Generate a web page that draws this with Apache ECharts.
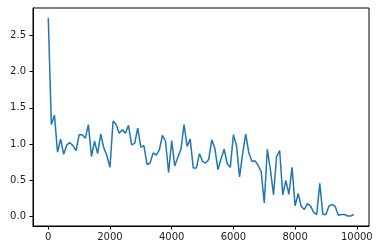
<!DOCTYPE html>
<html>
<head>
<meta charset="utf-8">
<script src="https://cdn.jsdelivr.net/npm/echarts@6/dist/echarts.min.js"></script>
<style>html,body{margin:0;padding:0;background:#fff}#c{width:384px;height:252px}</style>
</head>
<body>
<div id="c"></div>
<script>
var steps = [];
for (var k = 0; k < 100; k++) steps.push(k * 100);
var values = [
  2.74, 1.27, 1.40, 0.89, 1.07, 0.86, 0.99, 1.02, 0.98, 0.91,
  1.13, 1.13, 1.08, 1.27, 0.83, 1.04, 0.87, 1.14, 0.95, 0.84,
  0.68, 1.32, 1.27, 1.15, 1.20, 1.15, 1.26, 0.99, 1.01, 1.22,
  0.96, 0.98, 0.72, 0.74, 0.88, 0.85, 0.92, 1.12, 1.04, 0.61,
  1.05, 0.70, 0.82, 0.93, 1.27, 0.97, 1.07, 0.67, 0.67, 0.87,
  0.76, 0.74, 0.79, 1.06, 0.94, 0.65, 0.80, 0.93, 0.73, 0.68,
  1.13, 0.98, 0.55, 0.87, 1.14, 0.88, 0.76, 0.77, 0.71, 0.62,
  0.19, 0.93, 0.65, 0.30, 0.83, 0.91, 0.30, 0.50, 0.31, 0.68,
  0.15, 0.32, 0.14, 0.10, 0.18, 0.15, 0.06, 0.03, 0.46, 0.03,
  0.03, 0.15, 0.17, 0.14, 0.02, 0.03, 0.03, 0.01, 0.01, 0.03
];
var xTicks = [0, 2000, 4000, 6000, 8000, 10000];
var yTicks = [0.0, 0.5, 1.0, 1.5, 2.0, 2.5];

var data = steps.map(function (s, i) { return [s, values[i]]; });
var font = 'DejaVu Sans';
var chart = echarts.init(document.getElementById('c'), null, {renderer: 'canvas'});
chart.setOption({
  animation: false,
  grid: {left: 33, right: 15, top: 8, bottom: 26, show: true, borderColor: '#000', borderWidth: 1, containLabel: false},
  xAxis: {
    type: 'value', min: -495, max: 10395,
    splitLine: {show: false},
    axisLine: {show: true, onZero: false, lineStyle: {color: '#000', width: 1}},
    axisTick: {show: true, length: 3.5, lineStyle: {color: '#000'}, customValues: xTicks},
    axisLabel: {color: '#222', fontFamily: font, fontSize: 10, margin: 6, customValues: xTicks,
      formatter: function (v) { return String(v); }}
  },
  yAxis: {
    type: 'value', min: -0.128, max: 2.877,
    splitLine: {show: false},
    axisLine: {show: true, onZero: false, lineStyle: {color: '#000', width: 1}},
    axisTick: {show: true, length: 3.5, lineStyle: {color: '#000'}, customValues: yTicks},
    axisLabel: {color: '#222', fontFamily: font, fontSize: 10, margin: 7, customValues: yTicks,
      formatter: function (v) { return v.toFixed(1); }}
  },
  series: [{
    type: 'line', data: data, showSymbol: false, symbol: 'none',
    lineStyle: {color: '#1f77b4', width: 1.5},
    itemStyle: {color: '#1f77b4'}
  }]
});
</script>
</body>
</html>
